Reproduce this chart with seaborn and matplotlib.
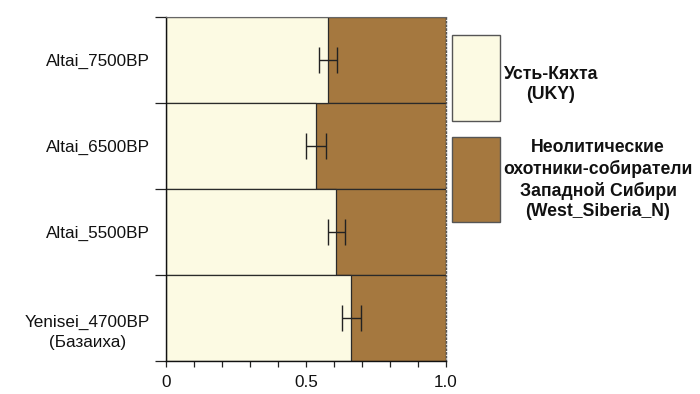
import matplotlib
matplotlib.use("Agg")
import matplotlib.pyplot as plt
from matplotlib.patches import Rectangle
from matplotlib.transforms import ScaledTranslation
import seaborn as sns
import numpy as np
import pandas as pd

groups = ["Altai_7500BP", "Altai_6500BP", "Altai_5500BP", "Yenisei_4700BP\n(Базаиха)"]
uky = [0.579, 0.537, 0.608, 0.662]
uky_err = [0.033, 0.036, 0.031, 0.034]
total = [1.0, 1.0, 1.0, 1.0]
legend_labels = ["Усть-Кяхта\n(UKY)", "Неолитические\nохотники-собиратели\nЗападной Сибири\n(West_Siberia_N)"]
xtick_vals = [0, 0.5, 1.0]
xtick_labels = ["0", "0.5", "1.0"]

c_light = "#FCFAE3"
c_brown = "#A5783F"

sns.set_theme(style="white")
plt.rcParams["font.family"] = ["Liberation Sans", "DejaVu Sans"]
plt.rcParams["text.color"] = "#111111"
plt.rcParams["xtick.labelcolor"] = "#111111"
plt.rcParams["ytick.labelcolor"] = "#111111"

fig = plt.figure(figsize=(7, 3.94), dpi=100)
ax = fig.add_axes([166/700, 1-361/394, 280/700, 344/394])

df = pd.DataFrame({"group": groups, "uky": uky, "total": total})
sns.barplot(data=df, x="total", y="group", color=c_brown, saturation=1, width=1.0,
            edgecolor="#2a2a2a", linewidth=0.9, ax=ax, orient="h")
sns.barplot(data=df, x="uky", y="group", color=c_light, saturation=1, width=1.0,
            edgecolor="#2a2a2a", linewidth=0.9, ax=ax, orient="h")

pos = np.arange(len(groups))
ax.errorbar(uky, pos, xerr=uky_err, fmt="none", ecolor="#222222", elinewidth=1.0,
            capsize=9.4, capthick=1.0, zorder=5)

ax.set_xlim(0, 1.0)
ax.set_ylim(len(groups) - 0.5, -0.5)
ax.set_xlabel("")
ax.set_ylabel("")

# x ticks
ax.set_xticks(xtick_vals)
ax.set_xticklabels(xtick_labels, fontsize=12.3, color="#111111")
ax.set_xticks(np.arange(0, 1.01, 0.1), minor=True)
ax.tick_params(axis="x", which="both", direction="out", length=4, width=0.9,
               color="#222222", bottom=True, pad=6)

# y ticks: major at boundaries, labels at centers
ax.set_yticks(np.arange(-0.5, len(groups), 1.0))
ax.set_yticklabels([""] * (len(groups) + 1))
ax.set_yticks(pos, minor=True)
ax.set_yticklabels(groups, minor=True, fontsize=12.3, color="#111111")
ax.tick_params(axis="y", which="major", direction="out", length=8, width=0.9,
               color="#222222", left=True)
ax.tick_params(axis="y", which="minor", length=0, pad=11.5, left=True)
for lab in ax.get_yticklabels(minor=True):
    if "\n" in lab.get_text():
        lab.set_multialignment("center")
        lab.set_linespacing(1.45)
        lab.set_transform(lab.get_transform() + ScaledTranslation(0, -0.10, fig.dpi_scale_trans))

for s in ["left", "bottom"]:
    ax.spines[s].set_color("#111111")
    ax.spines[s].set_linewidth(1.0)
ax.spines["top"].set_color("#666666")
ax.spines["top"].set_linewidth(0.8)
ax.spines["right"].set_color("#555555")
ax.spines["right"].set_linestyle(":")
ax.spines["right"].set_linewidth(1.0)

# legend
boxes = [(452, 35, 48, 86, c_light), (452, 137, 48, 85, c_brown)]
for (x, y, w, h, c) in boxes:
    fig.patches.append(Rectangle((x/700, 1-(y+h)/394), w/700, h/394, transform=fig.transFigure,
                                 facecolor=c, edgecolor="#555555", linewidth=1.0))
fig.text(551/700, 1-84.5/394, legend_labels[0], ha="center", va="center",
         fontsize=12.7, fontweight="bold", multialignment="center", linespacing=1.3,
         color="#111111")
fig.text(598/700, 1-179.5/394, legend_labels[1], ha="center", va="center",
         fontsize=12.7, fontweight="bold", multialignment="center", linespacing=1.27,
         color="#111111")

fig.savefig("out.png", dpi=100)
